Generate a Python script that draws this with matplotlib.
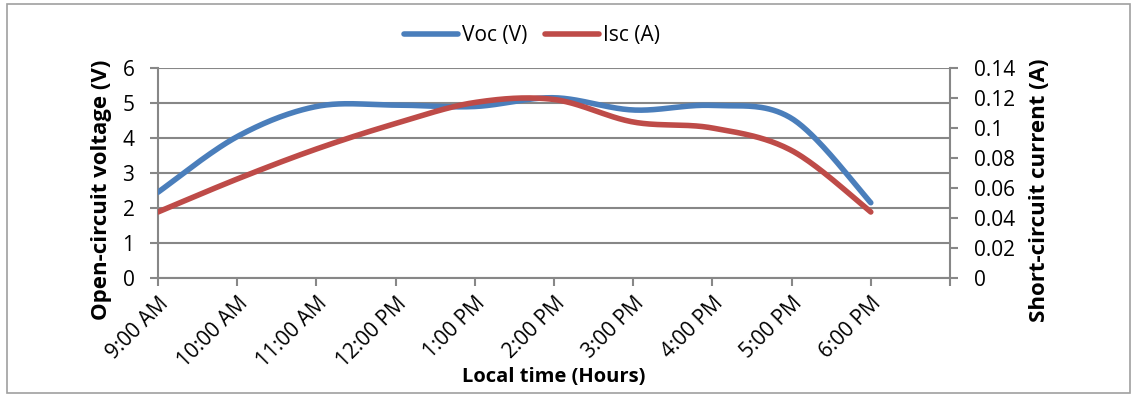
import numpy as np
import matplotlib
matplotlib.use("Agg")
import matplotlib.pyplot as plt
from matplotlib.patches import Rectangle

plt.rcParams['font.family'] = ['Open Sans', 'DejaVu Sans']

hours = ["9:00 AM", "10:00 AM", "11:00 AM", "12:00 PM", "1:00 PM",
         "2:00 PM", "3:00 PM", "4:00 PM", "5:00 PM", "6:00 PM"]
voc = [2.45, 4.04, 4.9, 4.94, 4.9, 5.15, 4.8, 4.93, 4.56, 2.15]
isc = [0.044, 0.066, 0.086, 0.103, 0.117, 0.119, 0.104, 0.100, 0.085, 0.044]

blue = "#4a7ebb"
red = "#be4b48"
grid = "#878787"
fs = 15


def smooth(y, n=40):
    # bezier smoothing through every point, like a spreadsheet's smoothed line
    y = np.asarray(y, float)
    x = np.arange(len(y), dtype=float)
    p = np.column_stack([x, y])
    ext = np.vstack([p[0], p, p[-1]])
    out = []
    for i in range(len(p) - 1):
        p0, p1, p2, p3 = ext[i], ext[i + 1], ext[i + 2], ext[i + 3]
        c1 = p1 + (p2 - p0) / 6
        c2 = p2 - (p3 - p1) / 6
        t = np.linspace(0, 1, n)[:, None]
        seg = ((1 - t) ** 3 * p1 + 3 * (1 - t) ** 2 * t * c1
               + 3 * (1 - t) * t ** 2 * c2 + t ** 3 * p2)
        out.append(seg if i == 0 else seg[1:])
    s = np.vstack(out)
    return s[:, 0], s[:, 1]


fig = plt.figure(figsize=(11.37, 3.96), dpi=100)
fig.patches.append(Rectangle((0.006, 0.008), 0.988, 0.982, transform=fig.transFigure,
                             fill=False, edgecolor="#a0a0a0", lw=1.2))
ax = fig.add_axes([158 / 1137, 1 - 278 / 396, 792 / 1137, 210 / 396])
ax2 = ax.twinx()

xv, yv = smooth(voc)
xi, yi = smooth(isc)
lv, = ax.plot(xv, yv, color=blue, lw=4, solid_capstyle="round", zorder=3, label="Voc (V)")
li, = ax2.plot(xi, yi, color=red, lw=4, solid_capstyle="round", zorder=3, label="Isc (A)")

ax.set_xlim(0, 10)
ax.set_ylim(0, 6)
ax2.set_ylim(0, 0.14)
ax.set_xticks(range(11))
ax.set_xticklabels(hours + [""], rotation=45, ha="right", va="top",
                   rotation_mode="anchor", fontsize=fs)
ax.set_yticks(range(7))
ax.set_yticklabels([str(v) for v in range(7)], fontsize=fs)
ax2.set_yticks(np.arange(0, 0.141, 0.02))
ax2.set_yticklabels(["0", "0.02", "0.04", "0.06", "0.08", "0.1", "0.12", "0.14"], fontsize=fs)

ax.yaxis.grid(True, color=grid, lw=1.5)
ax.set_axisbelow(True)
for a in (ax, ax2):
    a.spines["top"].set_visible(False)
    a.tick_params(axis="y", color=grid, width=1.5, length=6, pad=11)
ax.tick_params(axis="x", color=grid, width=1.5, length=6, pad=5)
ax.spines["left"].set_color(grid)
ax.spines["left"].set_linewidth(1.5)
ax.spines["bottom"].set_color(grid)
ax.spines["bottom"].set_linewidth(1.5)
ax.spines["right"].set_visible(False)
ax2.spines["left"].set_visible(False)
ax2.spines["bottom"].set_visible(False)
ax2.spines["right"].set_color(grid)
ax2.spines["right"].set_linewidth(1.5)

ax.set_ylabel("Open-circuit voltage (V)", fontsize=16, fontweight="bold", va="center")
ax2.set_ylabel("Short-circuit current (A)", fontsize=16, fontweight="bold", va="center")
ax.set_xlabel("Local time (Hours)", fontsize=14.5, fontweight="bold", va="center")
ax.yaxis.set_label_coords(-0.071, 0.42)
ax2.yaxis.set_label_coords(1.113, 0.42)
ax.xaxis.set_label_coords(0.5, -0.47)

fig.legend(handles=[lv, li], loc="center", bbox_to_anchor=(532 / 1137, 1 - 36 / 396),
           ncol=2, frameon=False, fontsize=fs, handlelength=2.6, handletextpad=0.2,
           columnspacing=0.8)

fig.savefig("out.png", dpi=100)
